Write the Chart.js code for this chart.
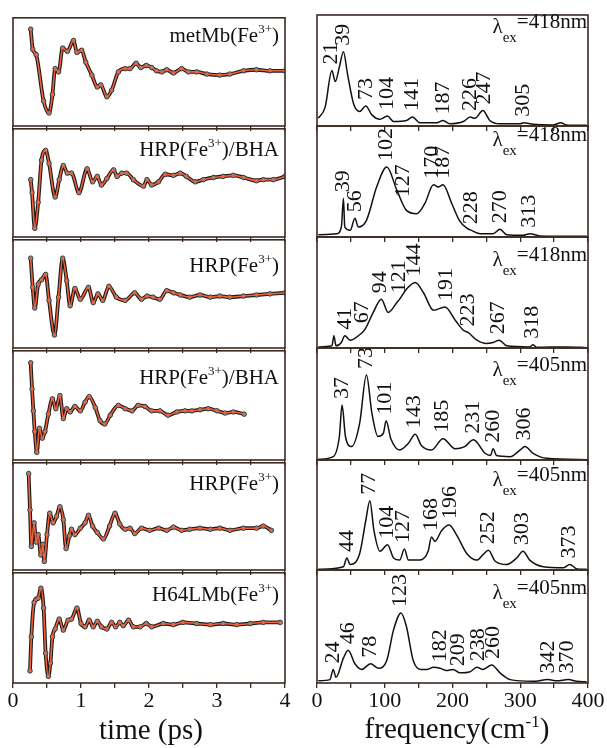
<!DOCTYPE html>
<html>
<head>
<meta charset="utf-8">
<script src="https://cdn.jsdelivr.net/npm/chart.js"></script>
<style>
  body { margin: 0; background: #fff; }
  #fig { position: relative; width: 607px; height: 748px; overflow: hidden;
         font-family: 'Liberation Serif', 'Times New Roman', serif; color: #111; }
  #fig canvas { position: absolute; }
  .lbl { position: absolute; font-size: 21px; line-height: 21px; white-space: nowrap; }
  .lbl sup { font-size: 13px; vertical-align: 9px; line-height: 0; }
  .lam { position: relative; top: 5px; }
  .lam sub { font-size: 15px; vertical-align: -9px; line-height: 0; }
  .title { position: absolute; font-size: 29px; line-height: 29px; white-space: nowrap; transform: translateX(-50%); }
  .title sup { font-size: 17px; vertical-align: 11px; line-height: 0; }
</style>
</head>
<body>
<div id="fig"></div>
<script>
// ---- data ----
const samples = ['metMb(Fe<sup>3+</sup>)', 'HRP(Fe<sup>3+</sup>)/BHA', 'HRP(Fe<sup>3+</sup>)',
                 'HRP(Fe<sup>3+</sup>)/BHA', 'HRP(Fe<sup>3+</sup>)', 'H64LMb(Fe<sup>3+</sup>)'];
const excitation = [418, 418, 418, 405, 405, 405];

// time traces: [time (ps), signal]
const trace1 = [[0.26,89.5],[0.29,71],[0.34,66],[0.45,23],[0.53,12],[0.58,29],[0.62,53],[0.67,50],[0.73,72],[0.80,69],[0.89,79],[0.94,68],[1.01,70],[1.07,59],[1.16,47],[1.24,36],[1.29,38],[1.38,27],[1.45,33],[1.55,50],[1.65,53],[1.72,53],[1.81,58],[1.88,54],[1.96,56],[2.04,54],[2.11,51],[2.19,50],[2.26,52],[2.36,49],[2.48,53],[2.58,50],[2.70,50],[2.85,48],[3.04,47],[3.19,48],[3.39,51],[3.58,52],[3.78,51],[4.0,51]];
const trace2 = [[0.26,53],[0.28,41],[0.32,8],[0.37,32],[0.42,71],[0.48,80],[0.53,68],[0.62,37],[0.68,53],[0.74,66],[0.80,59],[0.86,59],[0.97,41],[1.09,63],[1.17,51],[1.24,56],[1.30,48],[1.38,54],[1.48,62],[1.53,56],[1.60,59],[1.67,59],[1.77,53],[1.92,47],[1.97,53],[2.04,48],[2.14,51],[2.24,58],[2.36,57],[2.46,59],[2.55,56],[2.68,51],[2.80,53],[2.95,55],[3.09,56],[3.24,57],[3.39,55],[3.58,52],[3.68,53],[3.83,53],[4.0,56]];
const trace3 = [[0.26,83],[0.29,56],[0.32,37],[0.37,59],[0.42,63],[0.48,68],[0.53,44],[0.61,12],[0.67,47],[0.73,83],[0.79,62],[0.84,39],[0.91,55],[0.99,45],[1.11,56],[1.18,42],[1.25,50],[1.32,44],[1.41,57],[1.52,47],[1.65,44],[1.79,51],[1.89,45],[1.97,48],[2.06,47],[2.16,45],[2.26,53],[2.36,51],[2.46,49],[2.60,47],[2.75,49],[2.90,47],[3.04,48],[3.19,47],[3.39,48],[3.58,49],[3.78,50],[4.0,51]];
const trace4 = [[0.26,89],[0.28,65],[0.30,45],[0.32,26],[0.35,7],[0.39,29],[0.43,20],[0.47,26],[0.52,42],[0.58,56],[0.63,47],[0.69,59],[0.74,38],[0.79,47],[0.84,44],[0.91,49],[0.99,45],[1.06,53],[1.12,58],[1.21,48],[1.28,36],[1.35,33],[1.43,41],[1.55,50],[1.65,47],[1.75,45],[1.84,50],[1.94,49],[2.04,45],[2.16,45],[2.28,41],[2.41,44],[2.53,45],[2.63,45],[2.75,46],[2.87,47],[3.00,45],[3.12,43],[3.24,44],[3.40,42]];
const trace5 = [[0.23,90],[0.25,56],[0.27,22],[0.31,44],[0.34,26],[0.37,33],[0.41,14],[0.44,24],[0.46,8],[0.50,33],[0.54,53],[0.59,44],[0.64,50],[0.69,59],[0.74,47],[0.78,20],[0.83,32],[0.86,38],[0.91,33],[0.99,39],[1.06,44],[1.11,51],[1.17,41],[1.24,35],[1.33,29],[1.42,41],[1.50,53],[1.57,43],[1.65,38],[1.72,39],[1.79,34],[1.89,39],[2.01,37],[2.14,39],[2.26,37],[2.36,40],[2.48,37],[2.60,38],[2.75,39],[2.90,38],[3.04,39],[3.19,37],[3.39,39],[3.58,39],[3.68,41],[3.80,37]];
const trace6 = [[0.25,11],[0.27,42],[0.31,73],[0.34,76],[0.37,77],[0.41,86],[0.45,68],[0.48,27],[0.52,6],[0.55,18],[0.58,42],[0.62,49],[0.68,58],[0.74,48],[0.81,57],[0.86,58],[0.94,68],[1.00,54],[1.06,51],[1.12,57],[1.18,51],[1.24,56],[1.30,51],[1.38,49],[1.45,55],[1.51,51],[1.57,55],[1.62,52],[1.70,57],[1.77,51],[1.87,51],[1.96,54],[2.04,51],[2.21,54],[2.36,53],[2.50,55],[2.70,54],[2.90,53],[3.09,54],[3.29,53],[3.49,54],[3.68,55],[3.93,55]];

// spectra: [frequency (cm-1), amplitude]
const spec1 = [[2,7],[12,17],[22,50],[27,40],[33,53],[39,67],[45,47],[54,20],[63,13],[72,18],[81,10],[93,6],[104,9],[113,4],[132,5],[141,8],[152,3],[177,3],[186,5],[196,2],[216,4],[226,8],[233,7],[245,14],[255,5],[270,2],[300,2],[305,3],[319,1.5],[349,1],[360,3],[368,1],[398,0.6]];
const spec2 = [[2,2],[29,3],[36,9],[39,35],[41,9],[49,6],[56,17],[61,9],[73,15],[88,45],[103,63],[118,42],[132,24],[147,21],[159,30],[172,47],[179,45],[186,47],[199,30],[211,14],[221,8],[228,6],[241,3],[260,3],[270,7],[280,2],[304,1.5],[314,3],[329,1],[398,0.6]];
const spec3 = [[2,1],[22,2],[25,11],[28,2],[36,5],[41,11],[49,7],[61,11],[71,17],[83,32],[95,44],[105,32],[118,41],[122,44],[132,53],[145,59],[157,50],[172,34],[189,37],[204,25],[216,16],[223,14],[236,7],[250,4],[260,5],[269,7],[280,2],[314,1],[319,3],[324,0.6],[368,1],[398,0.3]];
const spec4 = [[2,0.6],[24,3],[33,21],[37,49],[42,21],[51,12],[63,33],[73,76],[81,42],[90,21],[98,24],[102,35],[109,19],[122,9],[135,15],[145,23],[154,13],[169,9],[186,19],[204,10],[218,12],[231,18],[248,6],[256,4],[260,10],[265,4],[285,3],[300,9],[307,12],[319,6],[339,1.5],[398,0.3]];
const spec5 = [[2,0.6],[39,3],[44,11],[49,5],[63,15],[72,45],[78,63],[84,36],[93,17],[104,23],[113,11],[122,9],[129,19],[135,9],[152,9],[164,17],[169,30],[174,26],[184,36],[195,41],[206,32],[221,15],[236,9],[245,14],[253,18],[263,8],[280,5],[295,11],[304,17],[314,9],[334,3],[364,2],[373,5],[384,1],[398,0.6]];
const spec6 = [[2,2],[19,3],[24,12],[28,5],[39,22],[46,29],[56,17],[66,12],[79,17],[91,13],[103,20],[113,47],[124,62],[132,50],[142,20],[154,12],[162,12],[172,14],[182,13],[191,11],[201,12],[211,9],[226,10],[236,14],[245,12],[258,16],[270,9],[285,3],[319,1.5],[341,3],[354,2],[371,3],[383,1.5],[398,1]];

// labelled peaks (cm-1)
const peaks1 = [21, 39, 73, 104, 141, 187, 226, 247, 305];
const peaks2 = [39, 56, 102, 127, 170, 187, 228, 270, 313];
const peaks3 = [41, 67, 94, 121, 144, 191, 223, 267, 318];
const peaks4 = [37, 73, 101, 143, 185, 231, 260, 306];
const peaks5 = [44, 77, 104, 127, 168, 196, 252, 303, 373];
const peaks6 = [24, 46, 78, 123, 182, 209, 238, 260, 342, 370];

const traces = [trace1, trace2, trace3, trace4, trace5, trace6];
const spectra = [spec1, spec2, spec3, spec4, spec5, spec6];
const peaks = [peaks1, peaks2, peaks3, peaks4, peaks5, peaks6];

// ---- layout ----
const fig = document.getElementById('fig');
const panelEdges = [15, 126, 237, 348, 460, 570, 683];
const leftCol = { left: 13, right: 285, padL: 12, padR: 12, min: 0, max: 4, step: 0.5, major: 1 };
const rightCol = { left: 317, right: 588, padL: 16, padR: 19, min: 0, max: 400, step: 50, major: 100 };
const nameBaseline = [28, 31, 36, 37, 31, 32];
const lamBaseline = [14, 16, 25, 24, 22, 25];
const frameColor = '#3a2a22';
const serif = 'Liberation Serif';

const framePlugin = {
  id: 'frame',
  afterDraw(chart) {
    const a = chart.chartArea, ctx = chart.ctx;
    ctx.save();
    ctx.strokeStyle = frameColor;
    ctx.lineWidth = 1.6;
    ctx.strokeRect(a.left, a.top, a.right - a.left, a.bottom - a.top);
    ctx.restore();
  }
};

function valueAt(pts, f) {
  for (let k = 1; k < pts.length; k++) {
    if (pts[k].x >= f) {
      const p = pts[k - 1], q = pts[k];
      return p.y + (q.y - p.y) * (f - p.x) / (q.x - p.x);
    }
  }
  return 0;
}

// rotated peak labels, set just above the curve near each peak
const peakLabelPlugin = {
  id: 'peakLabels',
  afterDatasetsDraw(chart, args, opts) {
    if (!opts.labels) return;
    const pts = chart.data.datasets[0].data;
    const xs = chart.scales.x, ys = chart.scales.y, ctx = chart.ctx;
    ctx.save();
    ctx.font = '22px "' + serif + '"';
    ctx.fillStyle = '#111';
    ctx.textAlign = 'left';
    ctx.textBaseline = 'middle';
    opts.labels.forEach(f => {
      let top = valueAt(pts, f);
      pts.forEach(p => { if (Math.abs(p.x - f) <= 5) top = Math.max(top, p.y); });
      ctx.save();
      ctx.translate(xs.getPixelForValue(f), ys.getPixelForValue(top) - 6);
      ctx.rotate(-Math.PI / 2);
      ctx.fillText(String(f), 0, 0);
      ctx.restore();
    });
    ctx.restore();
  }
};

function toXY(arr) { return arr.map(p => ({ x: p[0], y: p[1] })); }

function makePanel(i, col, datasets, extra) {
  const isLast = i === 5;
  const top = panelEdges[i], h = panelEdges[i + 1] - top;
  const bottomSpace = isLast ? 40 : 6;
  const canvas = document.createElement('canvas');
  canvas.width = col.right - col.left + col.padL + col.padR;
  canvas.height = h + 2 + bottomSpace;
  canvas.style.left = (col.left - col.padL) + 'px';
  canvas.style.top = (top - 2) + 'px';
  fig.appendChild(canvas);

  new Chart(canvas, {
    type: 'line',
    data: { datasets },
    options: {
      responsive: false,
      animation: false,
      devicePixelRatio: 1,
      layout: { padding: { left: col.padL, right: col.padR, top: 2, bottom: 0 } },
      plugins: { legend: { display: false }, tooltip: { enabled: false }, peakLabels: extra || {} },
      scales: {
        x: {
          type: 'linear', min: col.min, max: col.max,
          afterFit: s => { s.height = bottomSpace; },
          border: { display: false },
          grid: { drawOnChartArea: false, drawTicks: true, tickLength: 5, color: frameColor, lineWidth: 1.3 },
          ticks: {
            stepSize: col.step, autoSkip: false, maxRotation: 0, padding: 0,
            color: '#111', font: { family: serif, size: 22 },
            callback: v => (isLast && v % col.major === 0) ? String(v) : ''
          }
        },
        y: { display: false, min: 0, max: 100 }
      }
    },
    plugins: [framePlugin, peakLabelPlugin]
  });
}

for (let i = 0; i < 6; i++) {
  const pts = toXY(traces[i]);
  makePanel(i, leftCol, [
    { data: pts, borderColor: '#f0603a', borderWidth: 1.6, pointRadius: 0,
      cubicInterpolationMode: 'monotone', order: 0 },
    { data: pts, borderColor: '#1c1c1c', borderWidth: 3.8, pointRadius: 2.3,
      pointBackgroundColor: '#8c8c8c', pointBorderColor: '#222', pointBorderWidth: 0.8,
      cubicInterpolationMode: 'monotone', order: 1 }
  ]);
  makePanel(i, rightCol, [
    { data: toXY(spectra[i]), borderColor: '#111', borderWidth: 1.5, pointRadius: 0,
      cubicInterpolationMode: 'monotone' }
  ], { labels: peaks[i] });

  const top = panelEdges[i];
  const name = document.createElement('div');
  name.className = 'lbl';
  name.style.right = (607 - 279) + 'px';
  name.style.top = (top + nameBaseline[i] - 17.6) + 'px';
  name.innerHTML = samples[i];
  fig.appendChild(name);

  const lam = document.createElement('div');
  lam.className = 'lbl';
  lam.style.right = (607 - 587) + 'px';
  lam.style.top = (top + lamBaseline[i] - 17.6) + 'px';
  lam.innerHTML = '<span class="lam">&lambda;<sub>ex</sub></span>=' + excitation[i] + 'nm';
  fig.appendChild(lam);
}

const t1 = document.createElement('div');
t1.className = 'title';
t1.style.left = '151px'; t1.style.top = '715px';
t1.textContent = 'time (ps)';
fig.appendChild(t1);

const t2 = document.createElement('div');
t2.className = 'title';
t2.style.left = '457px'; t2.style.top = '714px';
t2.innerHTML = 'frequency(cm<sup>-1</sup>)';
fig.appendChild(t2);
</script>
</body>
</html>
